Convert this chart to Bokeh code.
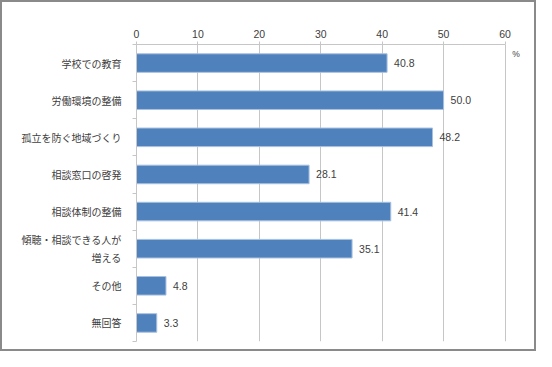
from bokeh.plotting import figure
from bokeh.models import Range1d, FixedTicker, LinearAxis, ColumnDataSource
from bokeh.core.properties import value
from bokeh.embed import file_html
from bokeh.resources import INLINE

categories = ["学校での教育", "労働環境の整備", "孤立を防ぐ地域づくり", "相談窓口の啓発",
              "相談体制の整備", "傾聴・相談できる人が\n増える", "その他", "無回答"]
values = [40.8, 50.0, 48.2, 28.1, 41.4, 35.1, 4.8, 3.3]
x_ticks = [0, 10, 20, 30, 40, 50, 60]
unit_label = "%"

n = len(categories)
centers = [2 * i + 1 for i in range(n)]
bounds = [2 * i for i in range(n + 1)]
x_max = x_ticks[-1]

GRID = "#c6c6c6"
TXT = "#404040"

p = figure(width=536, height=351, output_backend="svg", toolbar_location=None,
           x_range=Range1d(0, x_max + 3.5), y_range=Range1d(2 * n, 0),
           x_axis_location="above",
           min_border_left=134, min_border_right=12, min_border_top=42, min_border_bottom=12)
p.outline_line_color = None
p.background_fill_color = "white"
p.border_fill_color = "white"
p.styles = {"border": "2px solid #8a8a8a", "box-sizing": "border-box"}

# x axis (top)
xa = p.xaxis[0]
xa.ticker = FixedTicker(ticks=x_ticks)
xa.bounds = (0, x_max)
xa.axis_line_color = GRID
xa.major_tick_line_color = GRID
xa.major_tick_out = 3
xa.major_tick_in = 0
xa.minor_tick_line_color = None
xa.major_label_text_font = "Liberation Sans"
xa.major_label_text_font_size = "10.5px"
xa.major_label_text_color = TXT
xa.major_label_standoff = 4

p.xgrid.ticker = FixedTicker(ticks=x_ticks[1:])
p.xgrid.grid_line_color = GRID
p.ygrid.grid_line_color = None

# y axis: ticks at band boundaries
ya = p.yaxis[0]
ya.ticker = FixedTicker(ticks=bounds)
ya.axis_line_color = GRID
ya.major_tick_line_color = GRID
ya.major_tick_out = 4
ya.major_tick_in = 0
ya.minor_tick_line_color = None
ya.major_label_overrides = {b: "" for b in bounds}
ya.major_label_standoff = 0
ya.major_label_text_font_size = "1px"

# category labels axis
la = LinearAxis(ticker=FixedTicker(ticks=centers),
                major_label_overrides={c: t for c, t in zip(centers, categories)})
la.axis_line_color = None
la.major_tick_line_color = None
la.minor_tick_line_color = None
la.major_label_standoff = 5
la.major_label_text_font = "Noto Sans CJK JP"
la.major_label_text_font_size = "10px"
la.major_label_text_color = TXT
p.add_layout(la, "left")

src = ColumnDataSource(dict(y=centers, v=values, lbl=[f"{v:.1f}" for v in values]))
p.hbar(y="y", right="v", left=0, height=1.0, source=src,
       fill_color="#4F81BD", line_color="#a9c1e0", line_width=1)
p.text(x="v", y="y", text="lbl", source=src, x_offset=7,
       text_font=value("Liberation Sans"), text_font_size="10.5px",
       text_color=TXT, text_baseline="middle", text_align="left")

p.text(x=[x_max], y=[0], text=[unit_label], x_offset=11, y_offset=9,
       text_font=value("Liberation Sans"), text_font_size="8.5px",
       text_color=TXT, text_baseline="middle", text_align="center")

open("out.html", "w").write(file_html(p, INLINE))
